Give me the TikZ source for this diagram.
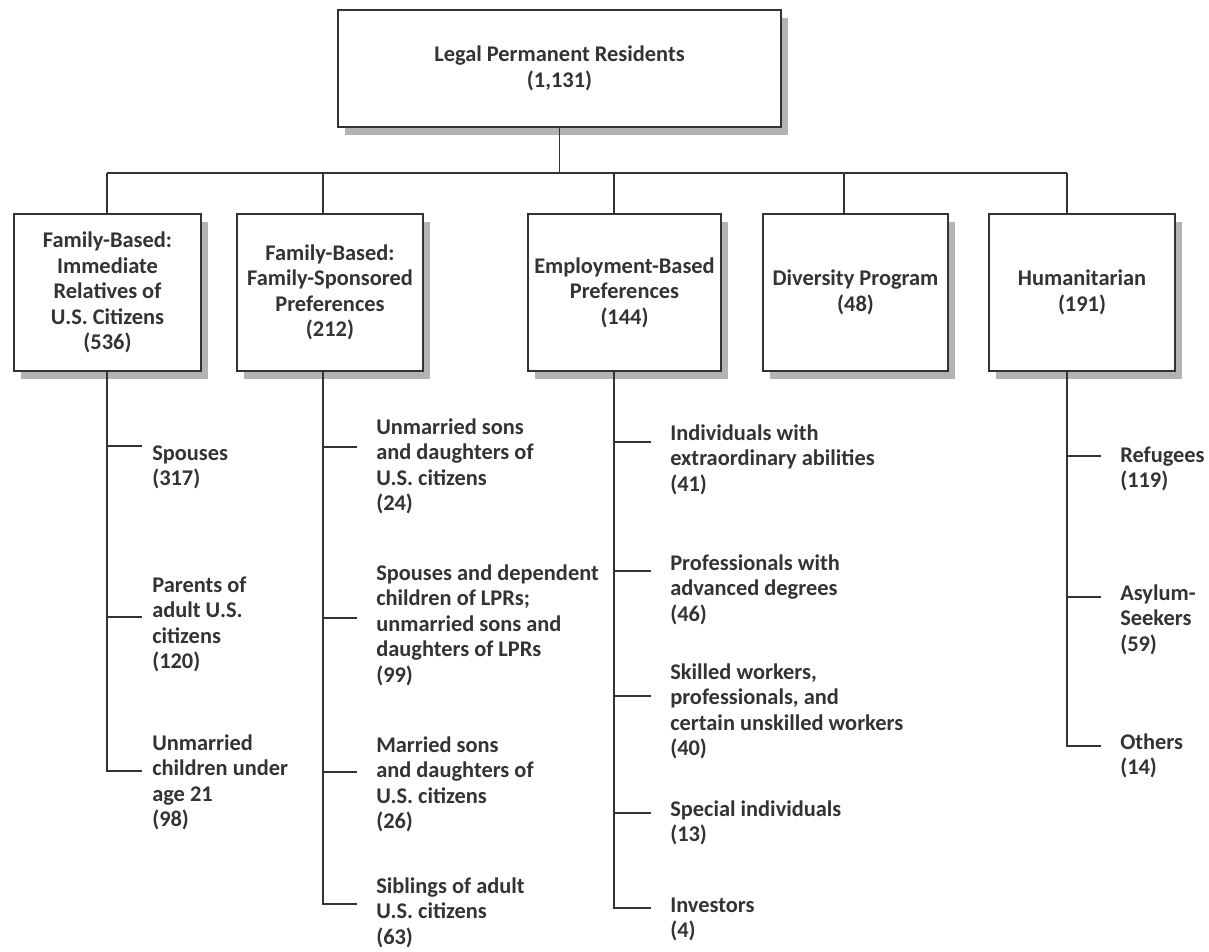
\documentclass[tikz,border=0pt]{standalone}
\usepackage{fontspec}
\setmainfont{Carlito}
\usetikzlibrary{shadows}
\definecolor{ink}{HTML}{333333}
\definecolor{shade}{HTML}{B3B3B3}
\newcommand{\tstrut}{\rule{0pt}{14pt}}
\begin{document}
\begin{tikzpicture}[x=0.75pt,y=-0.75pt,
  txt/.style={font=\fontsize{16.8}{19.1}\selectfont\bfseries, text=ink},
  box/.style={txt, draw=ink, line width=1pt, fill=white, align=center, inner sep=0pt,
    minimum height=117.75pt,
    general shadow={fill=shade, shadow xshift=5.5pt, shadow yshift=-6pt}},
  item/.style={txt, anchor=north west, inner sep=0pt, align=left, yshift=8.7pt},
  link/.style={draw=ink, line width=0.9pt},
  br/.style={link, shorten >=14pt},
  brA/.style={link, shorten >=7.5pt}]
\useasboundingbox (0,0) rectangle (1209,952);

% boxes
\node[box, minimum width=332.25pt, minimum height=87.75pt] (top) at (559.5,68.5) {Legal Permanent Residents\\(1,131)};
\node[box, minimum width=140.25pt] (b1) at (107.5,292.5) {Family-Based:\\Immediate\\Relatives of\\U.S. Citizens\\(536)};
\node[box, minimum width=139.5pt] (b2) at (330,292.5) {Family-Based:\\Family-Sponsored\\Preferences\\(212)};
\node[box, minimum width=144.75pt] (b3) at (624.5,292.5) {Employment-Based\\Preferences\\(144)};
\node[box, minimum width=138.75pt] (b4) at (855.5,292.5) {Diversity Program\\(48)};
\node[box, minimum width=139.5pt] (b5) at (1082,292.5) {Humanitarian\\(191)};

% bus
\coordinate (j0) at (559.5,173);
\coordinate (j1) at (107,173);
\coordinate (j2) at (323,173);
\coordinate (j3) at (614,173);
\coordinate (j4) at (844,173);
\coordinate (j5) at (1067,173);
\draw[link] (top.south) -- (j0);
\draw[link] (j1) -- (j5);
\draw[link] (j1) -- (j1 |- b1.north);
\draw[link] (j2) -- (j2 |- b2.north);
\draw[link] (j3) -- (j3 |- b3.north);
\draw[link] (j4) -- (j4 |- b4.north);
\draw[link] (j5) -- (j5 |- b5.north);

% items: Immediate relatives
\node[item] (s11) at (152,453) {\tstrut Spouses\\(317)};
\node[item] (s12) at (152,585) {\tstrut Parents of\\adult U.S.\\citizens\\(120)};
\node[item] (s13) at (152,743) {\tstrut Unmarried\\children under\\age 21\\(98)};
\coordinate (k11) at (107,446);
\coordinate (k12) at (107,617);
\coordinate (k13) at (107,771);
\draw[brA] (b1.south -| j1) -- (k13) -- (k13 -| s13.west);
\draw[brA] (k11) -- (k11 -| s11.west);
\draw[brA] (k12) -- (k12 -| s12.west);

% items: Family-sponsored
\node[item] (s21) at (376,427) {\tstrut Unmarried sons\\and daughters of\\U.S. citizens\\(24)};
\node[item] (s22) at (376,573) {\tstrut Spouses and dependent\\children of LPRs;\\unmarried sons and\\daughters of LPRs\\(99)};
\node[item] (s23) at (376,745) {\tstrut Married sons\\and daughters of\\U.S. citizens\\(26)};
\node[item] (s24) at (376,886) {\tstrut Siblings of adult\\U.S. citizens\\(63)};
\coordinate (k21) at (323,447);
\coordinate (k22) at (323,618);
\coordinate (k23) at (323,772);
\coordinate (k24) at (323,904);
\draw[br] (b2.south -| j2) -- (k24) -- (k24 -| s24.west);
\draw[br] (k21) -- (k21 -| s21.west);
\draw[br] (k22) -- (k22 -| s22.west);
\draw[br] (k23) -- (k23 -| s23.west);

% items: Employment
\node[item] (s31) at (670,433) {\tstrut Individuals with\\extraordinary abilities\\(41)};
\node[item] (s32) at (670,563) {\tstrut Professionals with\\advanced degrees\\(46)};
\node[item] (s33) at (670,672) {\tstrut Skilled workers,\\professionals, and\\certain unskilled workers\\(40)};
\node[item] (s34) at (670,809) {\tstrut Special individuals\\(13)};
\node[item] (s35) at (670,905) {\tstrut Investors\\(4)};
\coordinate (k31) at (614,442);
\coordinate (k32) at (614,571);
\coordinate (k33) at (614,696);
\coordinate (k34) at (614,813);
\coordinate (k35) at (614,908);
\draw[br] (b3.south -| j3) -- (k35) -- (k35 -| s35.west);
\draw[br] (k31) -- (k31 -| s31.west);
\draw[br] (k32) -- (k32 -| s32.west);
\draw[br] (k33) -- (k33 -| s33.west);
\draw[br] (k34) -- (k34 -| s34.west);

% items: Humanitarian
\node[item] (s51) at (1120,455) {\tstrut Refugees\\(119)};
\node[item] (s52) at (1120,593) {\tstrut Asylum-\\Seekers\\(59)};
\node[item] (s53) at (1120,742) {\tstrut Others\\(14)};
\coordinate (k51) at (1067,456);
\coordinate (k52) at (1067,597);
\coordinate (k53) at (1067,746);
\draw[br] (b5.south -| j5) -- (k53) -- (k53 -| s53.west);
\draw[br] (k51) -- (k51 -| s51.west);
\draw[br] (k52) -- (k52 -| s52.west);
\end{tikzpicture}
\end{document}
